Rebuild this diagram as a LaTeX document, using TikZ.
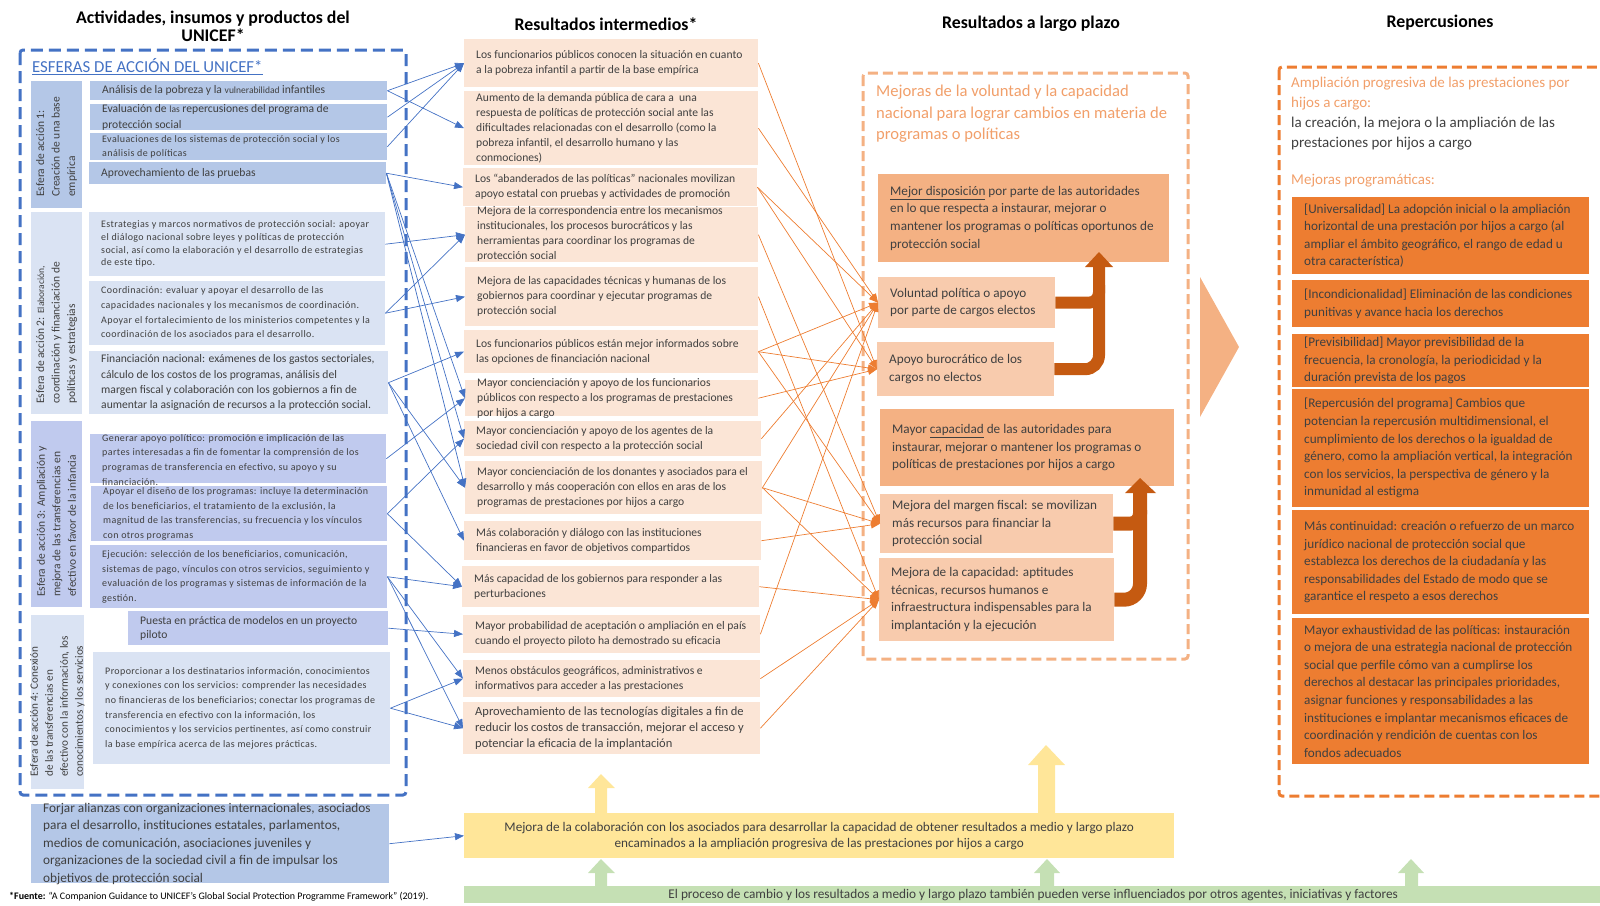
\documentclass[tikz,border=0pt]{standalone}
\usepackage{fontspec}
\setmainfont{Carlito}
\newfontfamily\spaced[LetterSpace=4]{Carlito}
\usetikzlibrary{arrows.meta,calc}
\definecolor{cblue}{HTML}{4472C4}
\definecolor{bla}{HTML}{B4C7E7}
\definecolor{blb}{HTML}{DAE3F3}
\definecolor{blc}{HTML}{C0CAEE}
\definecolor{peach}{HTML}{FBE5D6}
\definecolor{ltdark}{HTML}{F4B183}
\definecolor{ltlight}{HTML}{F8CBAD}
\definecolor{corg}{HTML}{ED7D31}
\definecolor{cdark}{HTML}{C55A11}
\definecolor{cyel}{HTML}{FFE699}
\definecolor{cgrn}{HTML}{C5E0B4}
\definecolor{otext}{HTML}{F19F6A}
\definecolor{tc}{HTML}{404040}
% name, box style, x, y, w, h, text style, text
\newcommand\bx[8]{%
  \node[#2, anchor=north west, minimum width=#5pt, minimum height=#6pt, inner sep=0pt] (#1) at (#3,#4) {};
  \node[anchor=west, align=left, inner sep=0pt, text=tc, #7] (#1t) at ([xshift=12pt]#1.west) {#8};}
\begin{document}
\begin{tikzpicture}[x=1pt,y=-1pt,
  fa/.style={font=\fontsize{11.6}{15.5}\selectfont},
  fs/.style={font=\spaced\fontsize{10}{14.6}\selectfont},
  fb/.style={font=\fontsize{11.6}{15.3}\selectfont},
  fm/.style={font=\fontsize{11.6}{15}\selectfont},
  fl/.style={font=\fontsize{13.2}{17.6}\selectfont},
  fr/.style={font=\fontsize{13.2}{17.6}\selectfont},
  ttl/.style={font=\bfseries\fontsize{17.8}{17.7}\selectfont, align=center, inner sep=0pt},
  side/.style={rotate=90, anchor=west, align=left, inner sep=0pt, text=tc},
  bl/.style={draw=cblue, line width=0.7pt, -{Triangle[length=9pt,width=7pt]}},
  ol/.style={draw=corg, line width=0.7pt, -{Triangle[length=9pt,width=7pt]}},
  ]
\useasboundingbox (0,0) rectangle (1600,905);
\clip (0,0) rectangle (1600,905);

% titles
\node[ttl] (t1) at (213,26) {Actividades, insumos y productos del\\UNICEF*};
\node[ttl] (t2) at (606,24) {Resultados intermedios*};
\node[ttl] (t3) at (1031,24) {Resultados a largo plazo};
\node[ttl] (t4) at (1440,23) {Repercusiones};

% left dashed frame
\draw[cblue, line width=3pt, dash pattern=on 12pt off 6pt, rounded corners=3pt] (20,50) rectangle (406,795);
\node[anchor=west, inner sep=0pt, text=cblue, font=\fontsize{16.8}{18}\selectfont] (esf) at (32,67) {\underline{ESFERAS DE ACCIÓN DEL UNICEF*}};

% Esfera 1
\node[fill=bla, anchor=north west, minimum width=51pt, minimum height=127pt, inner sep=0pt] (s1) at (31,81) {};
\node[side, font=\fontsize{11.5}{15.5}\selectfont] (s1t) at (56.5,197) {Esfera de acción 1:\\Creación de una base\\empírica};
\bx{a1}{fill=bla}{90}{81}{297}{19}{fa}{Análisis de la pobreza y la {\fontsize{9.5}{12}\selectfont vulnerabilidad} infantiles}
\bx{a2}{fill=bla}{90}{104}{297}{26}{fa}{Evaluación de {\fontsize{9.5}{12}\selectfont las} repercusiones del programa de\\protección social}
\bx{a3}{fill=bla}{90}{133}{297}{27}{fs}{Evaluaciones de los sistemas de protección social y los\\análisis de políticas}
\bx{a4}{fill=bla}{89}{162}{297}{22}{fa}{Aprovechamiento de las pruebas}

% Esfera 2
\node[fill=blb, anchor=north west, minimum width=51pt, minimum height=202pt, inner sep=0pt] (s2) at (31,212) {};
\node[side, font=\fontsize{11.5}{15.5}\selectfont] (s2t) at (56.5,404) {Esfera de acción 2: {\fontsize{9.5}{12}\selectfont Elaboración,}\\coordinación y financiación de\\políticas y estrategias};
\bx{b1}{fill=blb}{89}{212}{296}{64}{font=\spaced\fontsize{10}{12.6}\selectfont}{Estrategias y marcos normativos de protección social: apoyar\\el diálogo nacional sobre leyes y políticas de protección\\social, así como la elaboración y el desarrollo de estrategias\\de este tipo.}
\bx{b2}{fill=blb}{89}{281}{296}{64}{fs}{Coordinación: evaluar y apoyar el desarrollo de las\\capacidades nacionales y los mecanismos de coordinación.\\Apoyar el fortalecimiento de los ministerios competentes y la\\coordinación de los asociados para el desarrollo.}
\bx{b3}{fill=blb}{89}{351}{299}{63}{fb}{Financiación nacional: exámenes de los gastos sectoriales,\\cálculo de los costos de los programas, análisis del\\margen fiscal y colaboración con los gobiernos a fin de\\aumentar la asignación de recursos a la protección social.}

% Esfera 3
\node[fill=blc, anchor=north west, minimum width=51pt, minimum height=186pt, inner sep=0pt] (s3) at (31,421) {};
\node[side, font=\fontsize{11.5}{15.5}\selectfont] (s3t) at (56.5,597) {Esfera de acción 3: Ampliación y\\mejora de las transferencias en\\efectivo en favor de la infancia};
\bx{c1}{fill=blc}{90}{434}{296}{49}{fs, yshift=-1pt}{Generar apoyo político: promoción e implicación de las\\partes interesadas a fin de fomentar la comprensión de los\\programas de transferencia en efectivo, su apoyo y su\\financiación.}
\bx{c2}{fill=blc}{91}{486}{296}{55}{fs}{Apoyar el diseño de los programas: incluye la determinación\\de los beneficiarios, el tratamiento de la exclusión, la\\magnitud de las transferencias, su frecuencia y los vínculos\\con otros programas}
\bx{c3}{fill=blc}{90}{545}{297}{63}{fs}{Ejecución: selección de los beneficiarios, comunicación,\\sistemas de pago, vínculos con otros servicios, seguimiento y\\evaluación de los programas y sistemas de información de la\\gestión.}

% Esfera 4
\node[fill=blb, anchor=north west, minimum width=53pt, minimum height=174pt, inner sep=0pt] (s4) at (31,615) {};
\node[side, font=\fontsize{11.2}{15}\selectfont] (s4t) at (57.5,777) {Esfera de acción 4: Conexión\\de las transferencias en\\efectivo con la información, los\\conocimientos y los servicios};
\bx{d1}{fill=blc}{128}{611}{260}{34}{font=\fontsize{11.6}{14}\selectfont}{Puesta en práctica de modelos en un proyecto\\piloto}
\bx{d2}{fill=blb}{93}{652}{297}{112}{fs}{Proporcionar a los destinatarios información, conocimientos\\y conexiones con los servicios: comprender las necesidades\\no financieras de los beneficiarios; conectar los programas de\\transferencia en efectivo con la información, los\\conocimientos y los servicios pertinentes, así como construir\\la base empírica acerca de las mejores prácticas.}

% Forjar
\bx{fj}{fill=bla}{31}{804}{358}{79}{font=\fontsize{13.3}{17.5}\selectfont}{Forjar alianzas con organizaciones internacionales, asociados\\para el desarrollo, instituciones estatales, parlamentos,\\medios de comunicación, asociaciones juveniles y\\organizaciones de la sociedad civil a fin de impulsar los\\objetivos de protección social}

% footnote
\node[anchor=west, inner sep=0pt, font=\fontsize{10}{11}\selectfont] (fn) at (9,897) {\textbf{*Fuente:} “A Companion Guidance to UNICEF’s Global Social Protection Programme Framework” (2019).};

% middle column
\bx{m1}{fill=peach}{464}{39}{294}{48}{fm}{Los funcionarios públicos conocen la situación en cuanto\\a la pobreza infantil a partir de la base empírica}
\bx{m2}{fill=peach}{464}{91}{294}{74}{fm}{Aumento de la demanda pública de cara a~ una\\respuesta de políticas de protección social ante las\\dificultades relacionadas con el desarrollo (como la\\pobreza infantil, el desarrollo humano y las\\conmociones)}
\bx{m3}{fill=peach}{463}{168}{294}{38}{fm}{Los “abanderados de las políticas” nacionales movilizan\\apoyo estatal con pruebas y actividades de promoción}
\bx{m4}{fill=peach}{465}{207}{293}{55}{fm, yshift=1pt}{Mejora de la correspondencia entre los mecanismos\\institucionales, los procesos burocráticos y las\\herramientas para coordinar los programas de\\protección social}
\bx{m5}{fill=peach}{465}{267}{293}{59}{fm}{Mejora de las capacidades técnicas y humanas de los\\gobiernos para coordinar y ejecutar programas de\\protección social}
\bx{m6}{fill=peach}{464}{330}{294}{43}{fm}{Los funcionarios públicos están mejor informados sobre\\las opciones de financiación nacional}
\bx{m7}{fill=peach}{465}{380}{293}{36}{fm}{Mayor concienciación y apoyo de los funcionarios\\públicos con respecto a los programas de prestaciones\\por hijos a cargo}
\bx{m8}{fill=peach}{464}{421}{297}{35}{fm}{Mayor concienciación y apoyo de los agentes de la\\sociedad civil con respecto a la protección social}
\bx{m9}{fill=peach}{465}{461}{297}{53}{fm}{Mayor concienciación de los donantes y asociados para el\\desarrollo y más cooperación con ellos en aras de los\\programas de prestaciones por hijos a cargo}
\bx{m10}{fill=peach}{464}{521}{297}{39}{fm}{Más colaboración y diálogo con las instituciones\\financieras en favor de objetivos compartidos}
\bx{m11}{fill=peach}{462}{566}{297}{41}{fm}{Más capacidad de los gobiernos para responder a las\\perturbaciones}
\bx{m12}{fill=peach}{463}{615}{297}{38}{fm}{Mayor probabilidad de aceptación o ampliación en el país\\cuando el proyecto piloto ha demostrado su eficacia}
\bx{m13}{fill=peach}{463}{660}{297}{37}{fm}{Menos obstáculos geográficos, administrativos e\\informativos para acceder a las prestaciones}
\bx{m14}{fill=peach}{463}{702}{297}{52}{font=\fontsize{12.5}{16.3}\selectfont}{Aprovechamiento de las tecnologías digitales a fin de\\reducir los costos de transacción, mejorar el acceso y\\potenciar la eficacia de la implantación}

% long-term column
\draw[ltdark, line width=3pt, dash pattern=on 10pt off 5pt, rounded corners=3pt] (863,73) rectangle (1188,659);
\node[anchor=north west, align=left, inner sep=0pt, text=otext, font=\fontsize{16.6}{21.5}\selectfont] (ltt) at (876,85) {Mejoras de la voluntad y la capacidad\\nacional para lograr cambios en materia de\\programas o políticas};
\bx{lt0}{fill=ltdark}{878}{174}{291}{88}{fl}{\underline{Mejor disposición} por parte de las autoridades\\en lo que respecta a instaurar, mejorar o\\mantener los programas o políticas oportunos de\\protección social}
\bx{lt1}{fill=ltlight}{878}{277}{177}{51}{fl}{Voluntad política o apoyo\\por parte de cargos electos}
\bx{lt2}{fill=ltlight}{877}{342}{177}{54}{fl}{Apoyo burocrático de los\\cargos no electos}
\bx{ltB}{fill=ltdark}{880}{409}{294}{77}{fl}{Mayor \underline{capacidad} de las autoridades para\\instaurar, mejorar o mantener los programas o\\políticas de prestaciones por hijos a cargo}
\bx{lt3}{fill=ltlight}{880}{494}{233}{59}{fl}{Mejora del margen fiscal: se movilizan\\más recursos para financiar la\\protección social}
\bx{lt4}{fill=ltlight}{879}{558}{235}{83}{fl}{Mejora de la capacidad: aptitudes\\técnicas, recursos humanos e\\infraestructura indispensables para la\\implantación y la ejecución}

% thick arrows
\draw[cdark, line width=12pt, rounded corners=14pt] (lt2.east) -| (1099,266);
\draw[cdark, line width=12pt, rounded corners=10pt] (lt1.east) -| (1099,285);
\fill[cdark] (1085,267) -- (1099,252) -- (1113,267) -- cycle;
\draw[cdark, line width=14pt, rounded corners=16pt] (lt4.east) -| (1140,492);
\draw[cdark, line width=14pt, rounded corners=10pt] (lt3.east) -| (1140,510);
\fill[cdark] (1125,493) -- (1140,478) -- (1156,493) -- cycle;

% chevron
\fill[ltdark] (1200,277) -- (1239,347) -- (1200,417) -- cycle;

% right column
\draw[corg, line width=3pt, dash pattern=on 10pt off 5pt, rounded corners=3pt] (1279,67) rectangle (1620,796);
\node[anchor=north west, align=left, inner sep=0pt, font=\fontsize{15}{20}\selectfont] (rt) at (1291,77) {\textcolor{otext}{Ampliación progresiva de las prestaciones por}\\\textcolor{otext}{hijos a cargo:}\\\textcolor{tc}{la creación, la mejora o la ampliación de las}\\\textcolor{tc}{prestaciones por hijos a cargo}};
\node[anchor=west, inner sep=0pt, text=otext, font=\fontsize{15}{20}\selectfont] (rt2) at (1291,181) {Mejoras programáticas:};
\bx{r1}{fill=corg}{1292}{197}{297}{77}{fr}{[Universalidad] La adopción inicial o la ampliación\\horizontal de una prestación por hijos a cargo (al\\ampliar el ámbito geográfico, el rango de edad u\\otra característica)}
\bx{r2}{fill=corg}{1292}{280}{297}{47}{fr}{[Incondicionalidad] Eliminación de las condiciones\\punitivas y avance hacia los derechos}
\bx{r3}{fill=corg}{1292}{334}{297}{53}{fr}{[Previsibilidad] Mayor previsibilidad de la\\frecuencia, la cronología, la periodicidad y la\\duración prevista de los pagos}
\bx{r4}{fill=corg}{1292}{389}{297}{118}{fr}{[Repercusión del programa] Cambios que\\potencian la repercusión multidimensional, el\\cumplimiento de los derechos o la igualdad de\\género, como la ampliación vertical, la integración\\con los servicios, la perspectiva de género y la\\inmunidad al estigma}
\bx{r5}{fill=corg}{1292}{510}{297}{104}{fr}{Más continuidad: creación o refuerzo de un marco\\jurídico nacional de protección social que\\establezca los derechos de la ciudadanía y las\\responsabilidades del Estado de modo que se\\garantice el respeto a esos derechos}
\bx{r6}{fill=corg}{1292}{618}{297}{146}{fr}{Mayor exhaustividad de las políticas: instauración\\o mejora de una estrategia nacional de protección\\social que perfile cómo van a cumplirse los\\derechos al destacar las principales prioridades,\\asignar funciones y responsabilidades a las\\instituciones e implantar mecanismos eficaces de\\coordinación y rendición de cuentas con los\\fondos adecuados}

% bottom bars
\node[fill=cyel, anchor=north west, minimum width=710pt, minimum height=45pt, inner sep=0pt, align=center, text=tc, font=\fontsize{13.2}{16}\selectfont] (yb) at (464,813) {Mejora de la colaboración con los asociados para desarrollar la capacidad de obtener resultados a medio y largo plazo\\encaminados a la ampliación progresiva de las prestaciones por hijos a cargo};
\node[fill=cgrn, anchor=north west, minimum width=1138pt, minimum height=17pt, inner sep=0pt, text=tc, font=\fontsize{13.3}{14}\selectfont] (gb) at (464,886) {El proceso de cambio y los resultados a medio y largo plazo también pueden verse influenciados por otros agentes, iniciativas y factores};

% yellow up arrows
\fill[cyel] (595,813) -- (595,788) -- (588,788) -- (601,774) -- (615,788) -- (607,788) -- (607,813) -- cycle;
\fill[cyel] (1038,813) -- (1038,765) -- (1028,765) -- (1046,745) -- (1065,765) -- (1055,765) -- (1055,813) -- cycle;
% green up arrows
\fill[cgrn] (595,886) -- (595,873) -- (588,873) -- (601,859) -- (615,873) -- (607,873) -- (607,886) -- cycle;
\fill[cgrn] (1040,886) -- (1040,873) -- (1034,873) -- (1047,859) -- (1060,873) -- (1054,873) -- (1054,886) -- cycle;
\fill[cgrn] (1405,886) -- (1405,873) -- (1398,873) -- (1411,859) -- (1424,873) -- (1418,873) -- (1418,886) -- cycle;

% blue connectors
\draw[bl] (a1.east) -- (m1.west);
\draw[bl] (a1.east) -- (m2.west);
\draw[bl] (a2.east) -- (m1.west);
\draw[bl] (a3.east) -- (m1.west);
\draw[bl] (a4.east) -- (m3.west);
\draw[bl] (a4.east) -- (m7.west);
\draw[bl] (a4.east) -- (m8.west);
\draw[bl] (a4.east) -- (m9.west);
\draw[bl] (b1.east) -- (m4.west);
\draw[bl] (b2.east) -- (m4.west);
\draw[bl] (b2.east) -- (m5.west);
\draw[bl] (b3.east) -- (m6.west);
\draw[bl] (b3.east) -- (m9.west);
\draw[bl] (b3.east) -- (m10.west);
\draw[bl] (c1.east) -- (m7.west);
\draw[bl] (c2.east) -- (m8.west);
\draw[bl] (c2.east) -- (m11.west);
\draw[bl] (c3.east) -- (m11.west);
\draw[bl] (c3.east) -- (m13.west);
\draw[bl] (c3.east) -- (m14.west);
\draw[bl] (d1.east) -- (m12.west);
\draw[bl] (d2.east) -- (m13.west);
\draw[bl] (d2.east) -- (m14.west);
\draw[bl] (fj.east) -- (yb.west);

% orange connectors
\draw[ol] (m1.east) -- (lt2.west);
\draw[ol] (m2.east) -- (lt1.west);
\draw[ol] (m3.east) -- (lt1.west);
\draw[ol] (m3.east) -- (lt2.west);
\draw[ol] (m4.east) -- (lt3.west);
\draw[ol] (m5.east) -- (lt4.west);
\draw[ol] (m6.east) -- (lt1.west);
\draw[ol] (m6.east) -- (lt2.west);
\draw[ol] (m6.east) -- (lt3.west);
\draw[ol] (m7.east) -- (lt2.west);
\draw[ol] (m8.east) -- (lt1.west);
\draw[ol] (m9.east) -- (lt1.west);
\draw[ol] (m9.east) -- (lt3.west);
\draw[ol] (m9.east) -- (lt4.west);
\draw[ol] (m10.east) -- (lt3.west);
\draw[ol] (m11.east) -- (lt4.west);
\draw[ol] (m12.east) -- (lt1.west);
\draw[ol] (m13.east) -- (lt4.west);
\draw[ol] (m14.east) -- (lt4.west);
\end{tikzpicture}
\end{document}
